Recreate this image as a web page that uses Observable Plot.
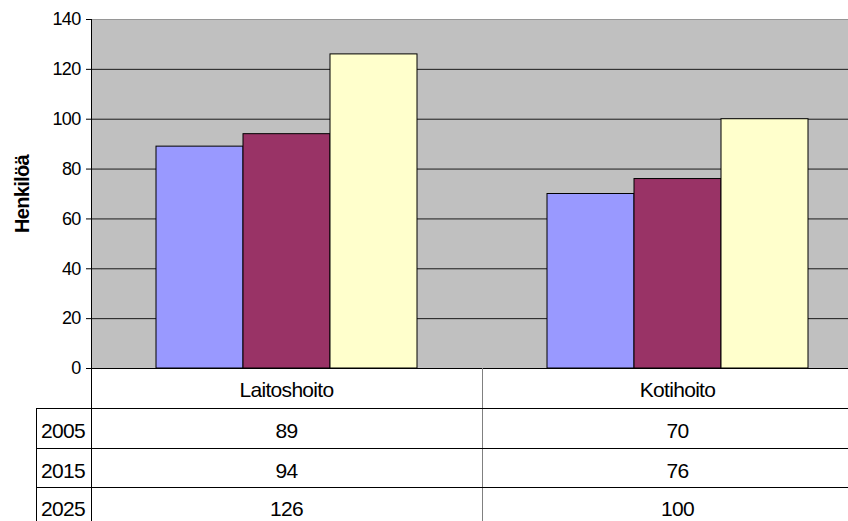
<!DOCTYPE html>
<html><head><meta charset="utf-8">
<script src="https://cdn.jsdelivr.net/npm/d3@7"></script>
<script src="https://cdn.jsdelivr.net/npm/@observablehq/plot@0.6"></script>
<style>
html,body{margin:0;padding:0;background:#fff;overflow:hidden;}
#wrap{position:relative;width:848px;height:521px;overflow:hidden;font-family:"Liberation Sans",Arial,sans-serif;}
#wrap svg{max-width:none !important;}
#wrap svg text{letter-spacing:-0.7px;}
#overlay{position:absolute;left:0;top:0;pointer-events:none;}
</style></head><body><div id="wrap"></div>
<script>
const categories = ["Laitoshoito", "Kotihoito"];
const years = ["2005", "2015", "2025"];
const values2005 = [89, 70];
const values2015 = [94, 76];
const values2025 = [126, 100];
const yTicks = [0, 20, 40, 60, 80, 100, 120, 140];
const yLabel = "Henkilöä";
const colors = ["#9999ff", "#993366", "#ffffcc"];

const series = [values2005, values2015, values2025];
const data = [];
categories.forEach((c, ci) => years.forEach((y, yi) => data.push({category: c, year: y, value: series[yi][ci]})));

const chart = Plot.plot({
  width: 848, height: 369,
  marginLeft: 91, marginRight: 0, marginTop: 19, marginBottom: 1,
  style: {fontFamily: "Liberation Sans, Arial, sans-serif", fontSize: "18px", background: "transparent", color: "black", maxWidth: "none", overflow: "visible"},
  facet: {data, x: "category"},
  fx: {type: "band", domain: categories, range: [91, 873], padding: 0, axis: null, label: null},
  x: {type: "band", domain: years, paddingInner: 0, paddingOuter: 0.747, axis: null},
  y: {type: "linear", domain: [0, 140], ticks: 7, tickSize: 5, tickPadding: 6, label: null, tickFormat: d => String(d)},
  color: {type: "ordinal", domain: years, range: colors},
  marks: [
    Plot.frame({fill: "#c0c0c0", stroke: null, shapeRendering: "crispEdges"}),
    Plot.ruleY(yTicks.filter(t => t > 0 && t < 140), {stroke: "#1a1a1a", strokeWidth: 1}),
    Plot.ruleY([140], {stroke: "#969696"}),
    Plot.barY(data, {x: "year", y: "value", fill: "year", stroke: "black", strokeWidth: 1}),
    Plot.ruleY([0], {stroke: "black"})
  ]
});
// drop any warning glyph that would otherwise show in the corner
chart.querySelectorAll("text").forEach(t => { if (t.textContent.includes("\u26a0")) t.remove(); });
const wrap = document.getElementById("wrap");
wrap.appendChild(chart);

// overlay: axis line, data table, axis title
const fxd = chart.scale("fx");
const fx = d3.scaleBand(fxd.domain, fxd.range);
const svg = d3.select(wrap).append("svg").attr("id", "overlay")
  .attr("width", 848).attr("height", 521)
  .style("font-family", "Liberation Sans, Arial, sans-serif");

// y axis line through table
svg.append("line").attr("x1", 91.5).attr("x2", 91.5).attr("y1", 19).attr("y2", 521).attr("stroke", "black");
// category divider(s)
categories.slice(1).forEach(c => {
  const x = Math.round(fx(c)) + 0.5;
  svg.append("line").attr("x1", x).attr("x2", x).attr("y1", 368).attr("y2", 521).attr("stroke", "#808080");
});
// row lines
const rowTops = [408, 448, 487];
rowTops.forEach(y => svg.append("line").attr("x1", 36).attr("x2", 848).attr("y1", y + 0.5).attr("y2", y + 0.5).attr("stroke", "black"));
svg.append("line").attr("x1", 36.5).attr("x2", 36.5).attr("y1", 408).attr("y2", 521).attr("stroke", "black");

// header
categories.forEach(c => {
  svg.append("text").attr("x", fx(c) + fx.bandwidth() / 2).attr("y", 397)
    .attr("text-anchor", "middle").attr("font-size", 21).attr("letter-spacing", "-0.3px").text(c);
});
const baselines = [438, 478, 516];
years.forEach((y, yi) => {
  svg.append("text").attr("x", 41).attr("y", baselines[yi]).attr("font-size", 21).attr("letter-spacing", "-1.2px").text(y);
  categories.forEach((c, ci) => {
    svg.append("text").attr("x", fx(c) + fx.bandwidth() / 2).attr("y", baselines[yi])
      .attr("text-anchor", "middle").attr("font-size", 21).attr("letter-spacing", "-1px").text(series[yi][ci]);
  });
});
// y label
svg.append("text").attr("transform", "translate(29,194) rotate(-90)")
  .attr("text-anchor", "middle").attr("font-size", 20).attr("font-weight", "bold").attr("letter-spacing", "0px").text(yLabel);
</script></body></html>
